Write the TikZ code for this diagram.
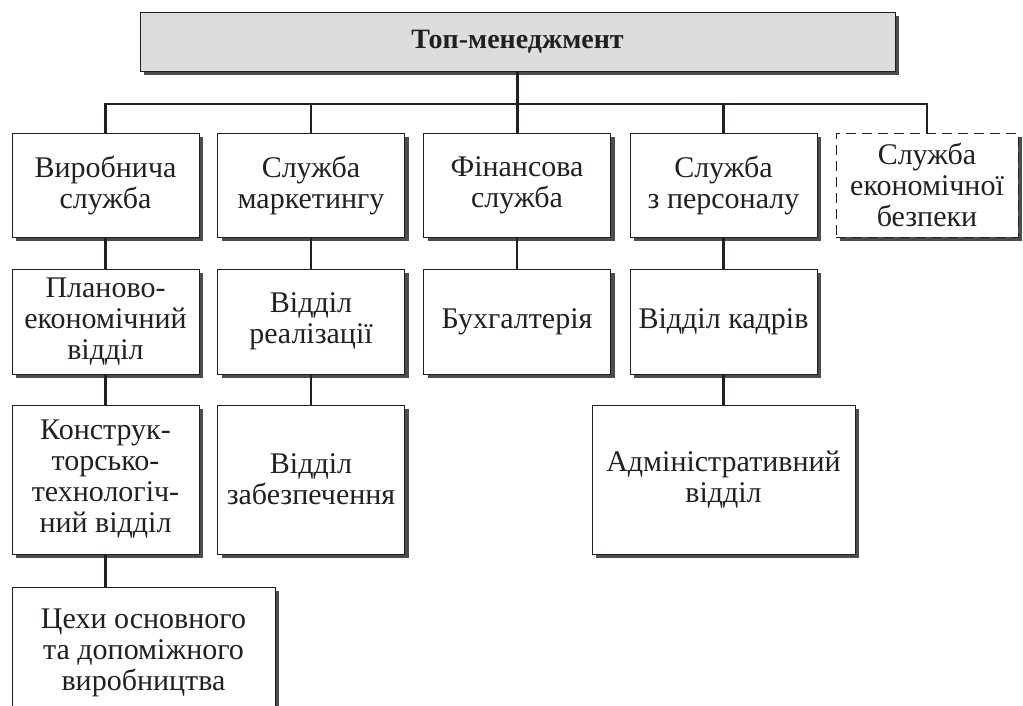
\documentclass[tikz,border=0pt]{standalone}
\usepackage{fontspec}
\setmainfont{Liberation Serif}
\usetikzlibrary{shadows}
\definecolor{inkblack}{HTML}{231F20}
\definecolor{headgray}{HTML}{DCDDDF}
\definecolor{shadegray}{HTML}{4D4D4D}
\tikzset{
  unit/.style={rectangle,draw=inkblack,line width=0.9pt,fill=white,text=inkblack,
    align=center,inner sep=0pt,minimum width=187pt,
    font=\fontsize{30}{31}\selectfont,
    drop shadow={shadow xshift=4pt,shadow yshift=-4pt,fill=shadegray,opacity=1}},
  link/.style={draw=inkblack,line width=2.2pt}
}
\begin{document}
\begin{tikzpicture}[x=1pt,y=-1pt]
        \useasboundingbox (0,0) rectangle (1023,706);
        \node[unit,fill=headgray,minimum width=755pt,minimum height=59pt,
          font=\fontsize{28}{30}\bfseries\selectfont] (top) at (517.5,41.5) {Топ-менеджмент};
        \begin{scope}[every node/.style={unit,minimum height=104pt}]
          \node (prod) at (105.5,185) {Виробнича\\служба};
          \node (mark) at (311,185) {Служба\\маркетингу};
          \node (fin) at (517,185) {Фінансова\\служба};
          \node (pers) at (723.5,185) {Служба\\з персоналу};
          \node[dash pattern=on 10pt off 6pt,minimum width=182pt] (sec) at (927,185) {Служба\\економічної\\безпеки};
        \end{scope}
        \begin{scope}[every node/.style={unit,minimum height=105pt}]
          \node (plan) at (105.5,321.5) {Планово-\\економічний\\відділ};
          \node (sales) at (311,321.5) {Відділ\\реалізації};
          \node (acc) at (517,321.5) {Бухгалтерія};
          \node (hr) at (723.5,321.5) {Відділ кадрів};
        \end{scope}
        \begin{scope}[every node/.style={unit,minimum height=149pt}]
          \node (design) at (105.5,479.5) {Конструк-\\торсько-\\технологіч-\\ний відділ};
          \node (supply) at (311,479.5) {Відділ\\забезпечення};
          \node[minimum width=263pt] (admin) at (723.5,479.5) {Адміністративний\\відділ};
        \end{scope}
        \node[unit,minimum width=263pt,minimum height=131pt] (shops) at (143.5,652.5) {Цехи основного\\та допоміжного\\виробництва};

        \coordinate (bus) at (517.5,104);
        \draw[link] (prod.north) |- (bus) -| (sec.north);
        \begin{scope}[every edge/.style={link}]
          \path (top.south) edge (top.south |- fin.north);
          \path (mark.north) edge (mark.north |- bus);
          \path (pers.north) edge (pers.north |- bus);
          \path (prod) edge (plan);
          \path (plan) edge (design);
          \path (design.south) edge (design.south |- shops.north);
          \path (mark) edge (sales);
          \path (sales) edge (supply);
          \path (fin) edge (acc);
          \path (pers) edge (hr);
          \path (hr) edge (admin);
        \end{scope}
\end{tikzpicture}
\end{document}
